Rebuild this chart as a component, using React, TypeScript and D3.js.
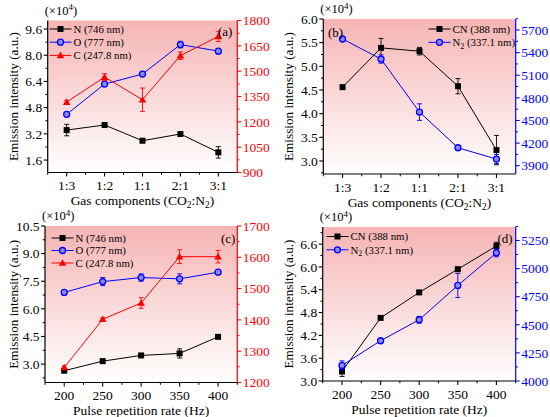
import React from "react";
import * as d3 from "d3";

const gasCategories = ["1:3", "1:2", "1:1", "2:1", "3:1"];
const pulseRates = [200, 250, 300, 350, 400];

// panel (a)
const aN = [3.43, 3.74, 2.78, 3.19, 2.07];
const aNErr = [0.35, 0.05, 0.05, 0.05, 0.35];
const aO = [4.39, 6.24, 6.85, 8.65, 8.25];
const aOErr = [0.05, 0.05, 0.1, 0.2, 0.15];
const aC = [1317, 1465, 1331, 1592, 1706];
const aCErr = [10, 20, 69, 22, 30];

// panel (b)
const bCN = [4.56, 5.39, 5.32, 4.58, 3.23];
const bCNErr = [0.02, 0.2, 0.08, 0.16, 0.31];
const bN2 = [5581, 5315, 4611, 4138, 3988];
const bN2Err = [20, 55, 110, 15, 60];

// panel (c)
const cN = [2.64, 3.16, 3.47, 3.58, 4.48];
const cNErr = [0.05, 0.05, 0.05, 0.25, 0.05];
const cO = [6.89, 7.48, 7.7, 7.63, 7.99];
const cOErr = [0.05, 0.22, 0.2, 0.27, 0.1];
const cC = [1248, 1402, 1454, 1602, 1602];
const cCErr = [5, 5, 17, 22, 20];

// panel (d)
const dCN = [3.25, 4.66, 5.33, 5.94, 6.55];
const dCNErr = [0.13, 0.02, 0.05, 0.02, 0.1];
const dN2 = [4139, 4358, 4545, 4850, 5140];
const dN2Err = [40, 15, 30, 107, 35];

const FONT = "'Liberation Serif', 'Times New Roman', serif";
const RED = "#ff0000";
const BLUE = "#0000ff";
const TICK_FS = 13.5;

type Series = {
  values: number[];
  errs: number[];
  color: string;
  marker: "square" | "circle" | "triangle";
  axis: "left" | "right";
  label: React.ReactNode;
};

type PanelProps = {
  id: string;
  box: { l: number; r: number; t: number; b: number };
  yTitleX: number;
  xDomain: [number, number];
  xVals: number[];
  xTicks: number[];
  xMinor: number[];
  xLabels: string[];
  xTitle: React.ReactNode;
  leftDomain: [number, number];
  leftTicks: number[];
  leftMinor: number[];
  leftFmt: (v: number) => string;
  rightDomain: [number, number];
  rightTicks: number[];
  rightMinor: number[];
  rightColor: string;
  series: Series[];
  legend: { x: number; y: number; dy: number };
  tag: { x: number; y: number; text: string };
};

const range = (a: number, b: number, s: number) => {
  const out: number[] = [];
  for (let v = a; v <= b + s * 1e-6; v += s) out.push(+v.toFixed(6));
  return out;
};

function Marker({ type, x, y, color }: { type: string; x: number; y: number; color: string }) {
  if (type === "square")
    return <rect x={x - 3} y={y - 3} width={6} height={6} fill={color} />;
  if (type === "circle")
    return <circle cx={x} cy={y} r={3} fill="#8a8aff" stroke={color} strokeWidth={1.3} />;
  const s = 3.8;
  return (
    <path
      d={`M${x},${y - s}L${x + s},${y + s * 0.75}L${x - s},${y + s * 0.75}Z`}
      fill={color}
    />
  );
}

function Panel(p: PanelProps) {
  const { l, r, t, b } = p.box;
  const x = d3.scaleLinear().domain(p.xDomain).range([l, r]);
  const yl = d3.scaleLinear().domain(p.leftDomain).range([b, t]);
  const yr = d3.scaleLinear().domain(p.rightDomain).range([b, t]);
  const gid = "grad" + p.id;
  const line = (vals: number[], ys: d3.ScaleLinear<number, number>) =>
    d3.line<number>().x((_, i) => x(p.xVals[i])).y((v) => ys(v))(vals) || "";
  return (
    <g fontFamily={FONT}>
      <defs>
        <linearGradient id={gid} x1="0" y1="0" x2="0" y2="1">
          <stop offset="0%" stopColor="#f6b4b4" />
          <stop offset="100%" stopColor="#ffffff" />
        </linearGradient>
      </defs>
      <rect x={l} y={t} width={r - l} height={b - t} fill={`url(#${gid})`} />
      {p.series.map((s, si) => {
        const ys = s.axis === "left" ? yl : yr;
        return (
          <g key={si}>
            <path d={line(s.values, ys)} fill="none" stroke={s.color} strokeWidth={1} />
            {s.values.map((v, i) => {
              const cx = x(p.xVals[i]);
              const y1 = ys(v + s.errs[i]);
              const y2 = ys(v - s.errs[i]);
              return (
                <g key={i} stroke={s.color} strokeWidth={0.9}>
                  <line x1={cx} x2={cx} y1={y1} y2={y2} />
                  <line x1={cx - 2.5} x2={cx + 2.5} y1={y1} y2={y1} />
                  <line x1={cx - 2.5} x2={cx + 2.5} y1={y2} y2={y2} />
                </g>
              );
            })}
            {s.values.map((v, i) => (
              <Marker key={i} type={s.marker} x={x(p.xVals[i])} y={ys(v)} color={s.color} />
            ))}
          </g>
        );
      })}
      {/* left axis */}
      <line x1={l} x2={l} y1={t} y2={b} stroke="#000" strokeWidth={1.2} />
      {p.leftTicks.map((v) => (
        <g key={"lt" + v}>
          <line x1={l - 4} x2={l} y1={yl(v)} y2={yl(v)} stroke="#000" strokeWidth={1.1} />
          <text x={l - 5.5} y={yl(v)} dy="0.35em" textAnchor="end" fontSize={TICK_FS}>
            {p.leftFmt(v)}
          </text>
        </g>
      ))}
      {p.leftMinor.map((v) => (
        <line key={"lm" + v} x1={l - 2.3} x2={l} y1={yl(v)} y2={yl(v)} stroke="#000" strokeWidth={1} />
      ))}
      {/* right axis */}
      <line x1={r} x2={r} y1={t} y2={b} stroke={p.rightColor} strokeWidth={1.2} />
      {p.rightTicks.map((v) => (
        <g key={"rt" + v}>
          <line x1={r} x2={r + 4} y1={yr(v)} y2={yr(v)} stroke={p.rightColor} strokeWidth={1.1} />
          <text x={r + 5.5} y={yr(v)} dy="0.35em" textAnchor="start" fontSize={TICK_FS} fill={p.rightColor}>
            {v}
          </text>
        </g>
      ))}
      {p.rightMinor.map((v) => (
        <line key={"rm" + v} x1={r} x2={r + 2.3} y1={yr(v)} y2={yr(v)} stroke={p.rightColor} strokeWidth={1} />
      ))}
      {/* bottom axis */}
      <line x1={l} x2={r} y1={b} y2={b} stroke="#000" strokeWidth={1.2} />
      {p.xTicks.map((v, i) => (
        <g key={"xt" + v}>
          <line x1={x(v)} x2={x(v)} y1={b} y2={b + 4} stroke="#000" strokeWidth={1.1} />
          <text x={x(v)} y={b + 13} dy="0.35em" textAnchor="middle" fontSize={TICK_FS}>
            {p.xLabels[i]}
          </text>
        </g>
      ))}
      {p.xMinor.map((v) => (
        <line key={"xm" + v} x1={x(v)} x2={x(v)} y1={b} y2={b + 2.3} stroke="#000" strokeWidth={1} />
      ))}
      <text x={(l + r) / 2} y={b + 28} dy="0.35em" textAnchor="middle" fontSize={13.5}>
        {p.xTitle}
      </text>
      <text
        transform={`translate(${p.yTitleX},${(t + b) / 2}) rotate(-90)`}
        textAnchor="middle"
        dy="0.35em"
        fontSize={13.2}
      >
        Emission intensity (a.u.)
      </text>
      <text x={l - 3} y={t - 6} fontSize={12.5}>
        (×10<tspan dy="-4.5" fontSize={9}>4</tspan>
        <tspan dy="4.5">)</tspan>
      </text>
      {/* legend */}
      {p.series.map((s, si) => {
        const ly = p.legend.y + si * p.legend.dy;
        const lx = p.legend.x;
        return (
          <g key={"lg" + si}>
            <line x1={lx} x2={lx + 22} y1={ly} y2={ly} stroke={s.color} strokeWidth={1} />
            <Marker type={s.marker} x={lx + 11} y={ly} color={s.color} />
            <text x={lx + 24} y={ly} dy="0.35em" fontSize={10.8}>
              {s.label}
            </text>
          </g>
        );
      })}
      <text x={p.tag.x} y={p.tag.y} dy="0.35em" fontSize={13}>
        {p.tag.text}
      </text>
    </g>
  );
}

const catIdx = gasCategories.map((_, i) => i);
const gasTitle = (
  <>
    Gas components (CO<tspan dy="3" fontSize={9.5}>2</tspan>
    <tspan dy="-3">:N</tspan>
    <tspan dy="3" fontSize={9.5}>2</tspan>
    <tspan dy="-3">)</tspan>
  </>
);
const pulseTitle = "Pulse repetition rate (Hz)";
const n2Label = (
  <>
    N<tspan dy="2.5" fontSize={8}>2</tspan>
    <tspan dy="-2.5"> (337.1 nm)</tspan>
  </>
);

export default function App() {
  return (
    <svg
      width={550}
      height={417}
      viewBox="0 0 550 417"
      style={{ position: "absolute", left: 0, top: 0, background: "#fff" }}
    >
      <Panel
        id="a"
        box={{ l: 47.7, r: 237.3, t: 20.5, b: 172.5 }}
        yTitleX={13.5}
        xDomain={[-0.5, 4.5]}
        xVals={catIdx}
        xTicks={catIdx}
        xMinor={[-0.5, 0.5, 1.5, 2.5, 3.5]}
        xLabels={gasCategories}
        xTitle={gasTitle}
        leftDomain={[0.84, 10.12]}
        leftTicks={range(1.6, 9.6, 1.6)}
        leftMinor={range(2.4, 8.8, 1.6)}
        leftFmt={(v) => v.toFixed(1)}
        rightDomain={[900, 1800]}
        rightTicks={range(900, 1800, 150)}
        rightMinor={range(975, 1725, 150)}
        rightColor={RED}
        series={[
          { values: aN, errs: aNErr, color: "#000", marker: "square", axis: "left", label: "N (746 nm)" },
          { values: aO, errs: aOErr, color: BLUE, marker: "circle", axis: "left", label: "O (777 nm)" },
          { values: aC, errs: aCErr, color: RED, marker: "triangle", axis: "right", label: "C (247.8 nm)" },
        ]}
        legend={{ x: 49.5, y: 29, dy: 13.2 }}
        tag={{ x: 218, y: 31, text: "(a)" }}
      />
      <Panel
        id="b"
        box={{ l: 323.3, r: 515.7, t: 19, b: 174 }}
        yTitleX={288.5}
        xDomain={[-0.5, 4.5]}
        xVals={catIdx}
        xTicks={catIdx}
        xMinor={[-0.5, 0.5, 1.5, 2.5, 3.5]}
        xLabels={gasCategories}
        xTitle={gasTitle}
        leftDomain={[2.725, 6.0]}
        leftTicks={range(3.0, 6.0, 0.5)}
        leftMinor={range(2.75, 5.75, 0.5)}
        leftFmt={(v) => v.toFixed(1)}
        rightDomain={[3790, 5846]}
        rightTicks={range(3900, 5700, 300)}
        rightMinor={range(4050, 5850, 300)}
        rightColor={BLUE}
        series={[
          { values: bCN, errs: bCNErr, color: "#000", marker: "square", axis: "left", label: "CN (388 nm)" },
          { values: bN2, errs: bN2Err, color: BLUE, marker: "circle", axis: "right", label: n2Label },
        ]}
        legend={{ x: 428.5, y: 29, dy: 13.3 }}
        tag={{ x: 328, y: 32, text: "(b)" }}
      />
      <Panel
        id="c"
        box={{ l: 45, r: 237.3, t: 226, b: 382.5 }}
        yTitleX={13.5}
        xDomain={[175, 425]}
        xVals={pulseRates}
        xTicks={pulseRates}
        xMinor={range(175, 425, 50)}
        xLabels={pulseRates.map(String)}
        xTitle={pulseTitle}
        leftDomain={[2.0, 10.5]}
        leftTicks={range(3.0, 10.5, 1.5)}
        leftMinor={range(2.25, 9.75, 1.5)}
        leftFmt={(v) => v.toFixed(1)}
        rightDomain={[1200, 1700]}
        rightTicks={range(1200, 1700, 100)}
        rightMinor={range(1250, 1650, 100)}
        rightColor={RED}
        series={[
          { values: cN, errs: cNErr, color: "#000", marker: "square", axis: "left", label: "N (746 nm)" },
          { values: cO, errs: cOErr, color: BLUE, marker: "circle", axis: "left", label: "O (777 nm)" },
          { values: cC, errs: cCErr, color: RED, marker: "triangle", axis: "right", label: "C (247.8 nm)" },
        ]}
        legend={{ x: 51.5, y: 238, dy: 12.5 }}
        tag={{ x: 221, y: 238, text: "(c)" }}
      />
      <Panel
        id="d"
        box={{ l: 322.7, r: 515.7, t: 227, b: 381 }}
        yTitleX={288.5}
        xDomain={[175, 425]}
        xVals={pulseRates}
        xTicks={pulseRates}
        xMinor={range(175, 425, 50)}
        xLabels={pulseRates.map(String)}
        xTitle={pulseTitle}
        leftDomain={[3.0, 7.05]}
        leftTicks={range(3.0, 6.6, 0.6)}
        leftMinor={range(3.3, 6.9, 0.6)}
        leftFmt={(v) => v.toFixed(1)}
        rightDomain={[4000, 5370]}
        rightTicks={range(4000, 5250, 250)}
        rightMinor={range(4125, 5375, 250)}
        rightColor={BLUE}
        series={[
          { values: dCN, errs: dCNErr, color: "#000", marker: "square", axis: "left", label: "CN (388 nm)" },
          { values: dN2, errs: dN2Err, color: BLUE, marker: "circle", axis: "right", label: n2Label },
        ]}
        legend={{ x: 326.5, y: 236.5, dy: 13.3 }}
        tag={{ x: 497.5, y: 238, text: "(d)" }}
      />
    </svg>
  );
}
